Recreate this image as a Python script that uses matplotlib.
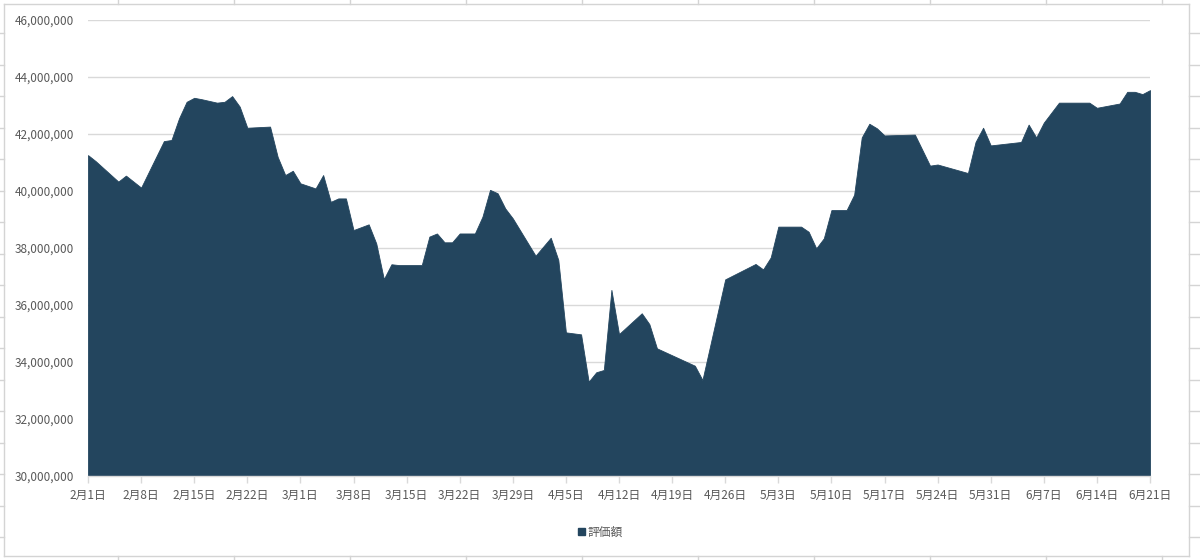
import matplotlib
matplotlib.use("Agg")
import matplotlib.pyplot as plt
from matplotlib.patches import Patch
from matplotlib.lines import Line2D
import pandas as pd

plt.rcParams['font.family'] = ['Noto Sans CJK JP', 'DejaVu Sans']

# ---- data ----
dates = [
    "2021-02-01", "2021-02-02", "2021-02-05", "2021-02-06", "2021-02-08",
    "2021-02-11", "2021-02-12", "2021-02-13", "2021-02-14", "2021-02-15",
    "2021-02-16", "2021-02-18", "2021-02-19", "2021-02-20", "2021-02-21",
    "2021-02-22", "2021-02-25", "2021-02-26", "2021-02-27", "2021-02-28",
    "2021-03-01", "2021-03-03", "2021-03-04", "2021-03-05", "2021-03-06",
    "2021-03-07", "2021-03-08", "2021-03-10", "2021-03-11", "2021-03-12",
    "2021-03-13", "2021-03-14", "2021-03-17", "2021-03-18", "2021-03-19",
    "2021-03-20", "2021-03-21", "2021-03-22", "2021-03-24", "2021-03-25",
    "2021-03-26", "2021-03-27", "2021-03-28", "2021-03-29", "2021-04-01",
    "2021-04-03", "2021-04-04", "2021-04-05", "2021-04-07", "2021-04-08",
    "2021-04-09", "2021-04-10", "2021-04-11", "2021-04-12", "2021-04-15",
    "2021-04-16", "2021-04-17", "2021-04-22", "2021-04-23", "2021-04-26",
    "2021-04-30", "2021-05-01", "2021-05-02", "2021-05-03", "2021-05-06",
    "2021-05-07", "2021-05-08", "2021-05-09", "2021-05-10", "2021-05-12",
    "2021-05-13", "2021-05-14", "2021-05-15", "2021-05-16", "2021-05-17",
    "2021-05-21", "2021-05-23", "2021-05-24", "2021-05-28", "2021-05-29",
    "2021-05-30", "2021-05-31", "2021-06-04", "2021-06-05", "2021-06-06",
    "2021-06-07", "2021-06-09", "2021-06-13", "2021-06-14", "2021-06-17",
    "2021-06-18", "2021-06-19", "2021-06-20", "2021-06-21",
]
values = [
    41260000, 41050000, 40330000, 40540000, 40120000,
    41750000, 41790000, 42550000, 43130000, 43270000,
    43220000, 43100000, 43130000, 43330000, 42960000,
    42220000, 42260000, 41200000, 40560000, 40710000,
    40270000, 40090000, 40560000, 39620000, 39740000,
    39740000, 38630000, 38830000, 38160000, 36910000,
    37430000, 37400000, 37400000, 38400000, 38510000,
    38200000, 38200000, 38510000, 38510000, 39100000,
    40040000, 39920000, 39390000, 39040000, 37730000,
    38360000, 37580000, 35040000, 34970000, 33310000,
    33640000, 33720000, 36530000, 34980000, 35710000,
    35330000, 34480000, 33870000, 33370000, 36900000,
    37440000, 37250000, 37670000, 38750000, 38750000,
    38570000, 37990000, 38340000, 39330000, 39330000,
    39870000, 41880000, 42360000, 42200000, 41950000,
    41980000, 40890000, 40930000, 40630000, 41720000,
    42220000, 41600000, 41720000, 42330000, 41880000,
    42400000, 43100000, 43100000, 42920000, 43070000,
    43480000, 43480000, 43400000, 43540000,
]

tick_dates = ["2021-02-01", "2021-02-08", "2021-02-15", "2021-02-22", "2021-03-01",
              "2021-03-08", "2021-03-15", "2021-03-22", "2021-03-29", "2021-04-05",
              "2021-04-12", "2021-04-19", "2021-04-26", "2021-05-03", "2021-05-10",
              "2021-05-17", "2021-05-24", "2021-05-31", "2021-06-07", "2021-06-14",
              "2021-06-21"]
tick_labels = ["2月1日", "2月8日", "2月15日", "2月22日", "3月1日", "3月8日", "3月15日",
               "3月22日", "3月29日", "4月5日", "4月12日", "4月19日", "4月26日", "5月3日",
               "5月10日", "5月17日", "5月24日", "5月31日", "6月7日", "6月14日", "6月21日"]
y_ticks = [30000000, 32000000, 34000000, 36000000, 38000000, 40000000,
           42000000, 44000000, 46000000]
series_name = "評価額"

# ---- plot ----
W, H = 1200, 560
fig = plt.figure(figsize=(W / 100, H / 100), dpi=100, facecolor="white")
ax = fig.add_axes([88 / W, 1 - 476 / H, (1150 - 88) / W, (476 - 20) / H])

x = pd.to_datetime(dates)
fill_color = "#23455e"
ax.fill_between(x, values, 30000000, color=fill_color, linewidth=0.6,
                edgecolor=fill_color, zorder=3)

ax.set_xlim(pd.Timestamp(tick_dates[0]), pd.Timestamp(tick_dates[-1]))
ax.set_ylim(30000000, 46000000)
ax.set_yticks(y_ticks)
ax.set_yticklabels([f"{v:,}" for v in y_ticks])
ax.set_xticks(pd.to_datetime(tick_dates))
ax.set_xticklabels(tick_labels)

grid_c = "#d9d9d9"
ax.grid(axis="y", color=grid_c, linewidth=1.0, zorder=0)
ax.set_axisbelow(True)
for s in ["top", "right", "left"]:
    ax.spines[s].set_visible(False)
ax.spines["bottom"].set_color(grid_c)
ax.spines["bottom"].set_linewidth(1.0)
ax.spines["bottom"].set_zorder(4)

ax.tick_params(axis="y", length=0, pad=10, labelsize=8.5, labelcolor="#595959")
ax.tick_params(axis="x", length=5, width=1, color=grid_c, pad=4,
               labelsize=8.5, labelcolor="#595959")

handle = Patch(facecolor=fill_color, edgecolor=fill_color)
fig.legend([handle], [series_name], loc="center", bbox_to_anchor=(600 / W, 1 - 532 / H),
           frameon=False, fontsize=8.5, handlelength=0.6, handleheight=0.6,
           handletextpad=0.2, labelcolor="#595959")

# spreadsheet cell lines around chart area
cell_c = "#d4d4d4"
def fl(x0, y0, x1, y1, c=cell_c, lw=1.0):
    fig.add_artist(Line2D([x0 / W, x1 / W], [1 - y0 / H, 1 - y1 / H], color=c,
                          linewidth=lw, transform=fig.transFigure))

# chart border
fl(4, 4, 1189, 4)
fl(4, 556, 1189, 556)
fl(4, 4, 4, 556)
fl(1189, 4, 1189, 556)
# column lines top/bottom
cx = 118
while cx < W:
    fl(cx, 0, cx, 4)
    fl(cx, 556, cx, 560)
    cx += 116
# row lines left/right
ry = 33
while ry < H:
    fl(0, ry, 4, ry)
    fl(1189, ry, 1200, ry)
    ry += 31.5

fig.savefig("out.png", dpi=100, facecolor="white")
